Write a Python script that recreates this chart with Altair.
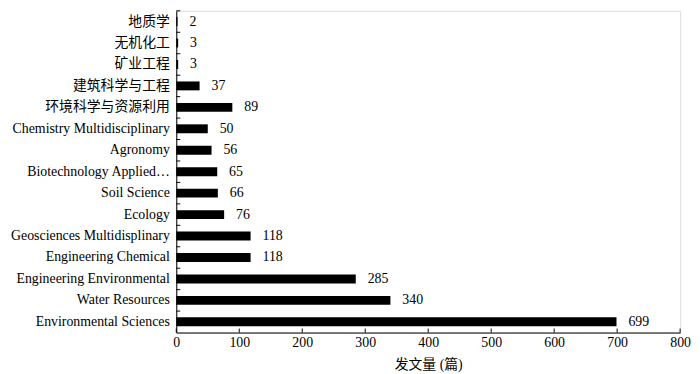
import altair as alt
import pandas as pd

categories = ["地质学", "无机化工", "矿业工程", "建筑科学与工程", "环境科学与资源利用",
              "Chemistry Multidisciplinary", "Agronomy", "Biotechnology Applied…",
              "Soil Science", "Ecology", "Geosciences Multidisplinary",
              "Engineering Chemical", "Engineering Environmental", "Water Resources",
              "Environmental Sciences"]
counts = [2, 3, 3, 37, 89, 50, 56, 65, 66, 76, 118, 118, 285, 340, 699]
x_ticks = [0, 100, 200, 300, 400, 500, 600, 700, 800]
x_title = "发文量 (篇)"

df = pd.DataFrame({"category": categories, "count": counts})
ticks_df = pd.DataFrame({"t": x_ticks})

W, H = 509, 325
FONT = "Liberation Serif, Times New Roman, Noto Sans CJK SC"
FS = 14

xscale = alt.Scale(domain=[0, 800], nice=False, zero=True)
yscale = alt.Scale(domain=categories, paddingInner=0, paddingOuter=0)

xaxis = alt.Axis(orient="bottom", values=x_ticks, title=x_title, grid=False, ticks=False,
                 tickSize=0, labelPadding=3, titlePadding=8,
                 domainColor="black", labelColor="black", titleColor="black",
                 labelFont=FONT, titleFont=FONT, labelFontSize=FS,
                 titleFontSize=FS, titleFontWeight="normal", labelFlush=False)
yaxis = alt.Axis(orient="left", title=None, ticks=False, tickSize=0, labelPadding=7,
                 grid=False, domainColor="black", labelColor="black",
                 labelFont=FONT, labelFontSize=FS, labelLimit=300)

base = alt.Chart(df)

bars = base.mark_bar(color="black", size=9).encode(
    x=alt.X("count:Q", scale=xscale, axis=xaxis),
    y=alt.Y("category:N", sort=categories, scale=yscale, axis=yaxis),
)

labels = base.mark_text(align="left", baseline="middle", dx=12, font=FONT,
                        fontSize=FS, color="black").encode(
    x=alt.X("count:Q", scale=xscale, axis=xaxis),
    y=alt.Y("category:N", sort=categories, scale=yscale, axis=yaxis),
    text=alt.Text("count:Q"),
)

yticks = base.mark_rule(color="black", strokeWidth=1).encode(
    y=alt.Y("category:N", sort=categories, scale=yscale, axis=yaxis, bandPosition=0),
    x=alt.value(0),
    x2=alt.value(4),
)

xticks = alt.Chart(ticks_df).mark_rule(color="black", strokeWidth=1).encode(
    x=alt.X("t:Q", scale=xscale, axis=xaxis),
    y=alt.value(H - 4),
    y2=alt.value(H),
)

chart = alt.layer(bars, labels, yticks, xticks).properties(
    width=W, height=H,
    padding={"left": 170, "top": 1, "right": 12, "bottom": 40},
    autosize=alt.AutoSizeParams(type="none"),
).configure_view(stroke=None).configure(background="white")

chart.save("out.html", embed_options={"renderer": "svg", "actions": False})
